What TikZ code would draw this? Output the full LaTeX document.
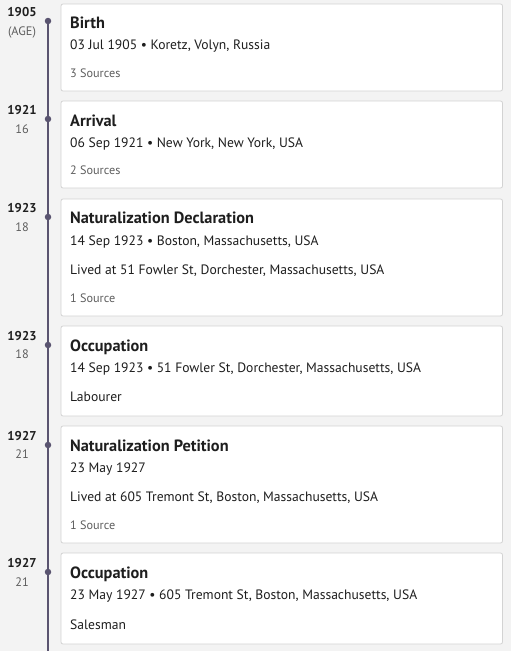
\documentclass[tikz,border=0pt]{standalone}
\usepackage{fontspec}
\setmainfont{PT Sans}
\definecolor{bg}{HTML}{F3F3F3}
\definecolor{cardborder}{HTML}{D3D3D3}
\definecolor{tline}{HTML}{5A5470}
\definecolor{ink}{HTML}{1E1E1E}
\definecolor{soft}{HTML}{5E5E5E}
\begin{document}
\begin{tikzpicture}[x=1pt,y=-1pt,
  card/.style={draw=cardborder,fill=white,line width=0.8pt,rounded corners=2pt},
  dotnode/.style={circle,fill=tline,inner sep=0pt,minimum size=6.5pt},
  tl/.style={draw=tline,line width=2pt},
  ttl/.style={anchor=base west,inner sep=0pt,font=\fontsize{16.3}{19}\selectfont\bfseries,text=ink},
  body/.style={anchor=base west,inner sep=0pt,font=\fontsize{13.6}{16}\selectfont,text=ink},
  src/.style={anchor=base west,inner sep=0pt,font=\fontsize{12.2}{14}\selectfont,text=soft},
  yr/.style={anchor=base,inner sep=0pt,font=\fontsize{12.8}{15}\selectfont\bfseries,text=ink},
  age/.style={anchor=base,inner sep=0pt,font=\fontsize{12.3}{14}\selectfont,text=soft}]
\fill[bg] (0,0) rectangle (511,651);
\useasboundingbox (0,0) rectangle (511,651);
% timeline
\node[dotnode] (d1) at (48,21) {};
\coordinate (lend) at (48,651);
\draw[tl] (d1.center) -- (lend);
\node[dotnode] (d2) at (48,119) {};
\node[dotnode] (d3) at (48,217) {};
\node[dotnode] (d4) at (48,345) {};
\node[dotnode] (d5) at (48,445) {};
\node[dotnode] (d6) at (48,572) {};
% cards
\draw[card] (61,4) rectangle (502.5,91);
\draw[card] (61,101) rectangle (502.5,188);
\draw[card] (61,199) rectangle (502.5,316);
\draw[card] (61,326) rectangle (502.5,416);
\draw[card] (61,426) rectangle (502.5,543);
\draw[card] (61,553) rectangle (502.5,644);
% years / ages
\node[yr] (y1) at (22,16.5) {1905};
\node[age] (a1) at (22,35.5) {(AGE)};
\node[yr] (y2) at (22,114.5) {1921};
\node[age] (a2) at (22,133.5) {16};
\node[yr] (y3) at (22,212.5) {1923};
\node[age] (a3) at (22,231.5) {18};
\node[yr] (y4) at (22,340.5) {1923};
\node[age] (a4) at (22,358.5) {18};
\node[yr] (y5) at (22,440.5) {1927};
\node[age] (a5) at (22,458.5) {21};
\node[yr] (y6) at (22,567.5) {1927};
\node[age] (a6) at (22,586.5) {21};
% card 1
\node[ttl] (t1) at (70,28.5) {Birth};
\node[body] (b1) at (70,49) {03 Jul 1905 • Koretz, Volyn, Russia};
\node[src] (s1) at (70,77.5) {3 Sources};
% card 2
\node[ttl] (t2) at (70,126.5) {Arrival};
\node[body] (b2) at (70,147) {06 Sep 1921 • New York, New York, USA};
\node[src] (s2) at (70,174.5) {2 Sources};
% card 3
\node[ttl] (t3) at (70,223.5) {Naturalization Declaration};
\node[body] (b3) at (70,245) {14 Sep 1923 • Boston, Massachusetts, USA};
\node[body] (l3) at (70,274) {Lived at 51 Fowler St, Dorchester, Massachusetts, USA};
\node[src] (s3) at (70,302.5) {1 Source};
% card 4
\node[ttl] (t4) at (70,351.5) {Occupation};
\node[body] (b4) at (70,372) {14 Sep 1923 • 51 Fowler St, Dorchester, Massachusetts, USA};
\node[body] (l4) at (70,401) {Labourer};
% card 5
\node[ttl] (t5) at (70,451.5) {Naturalization Petition};
\node[body] (b5) at (70,472) {23 May 1927};
\node[body] (l5) at (70,501) {Lived at 605 Tremont St, Boston, Massachusetts, USA};
\node[src] (s5) at (70,529.5) {1 Source};
% card 6
\node[ttl] (t6) at (70,578.5) {Occupation};
\node[body] (b6) at (70,599) {23 May 1927 • 605 Tremont St, Boston, Massachusetts, USA};
\node[body] (l6) at (70,629) {Salesman};
\end{tikzpicture}
\end{document}
